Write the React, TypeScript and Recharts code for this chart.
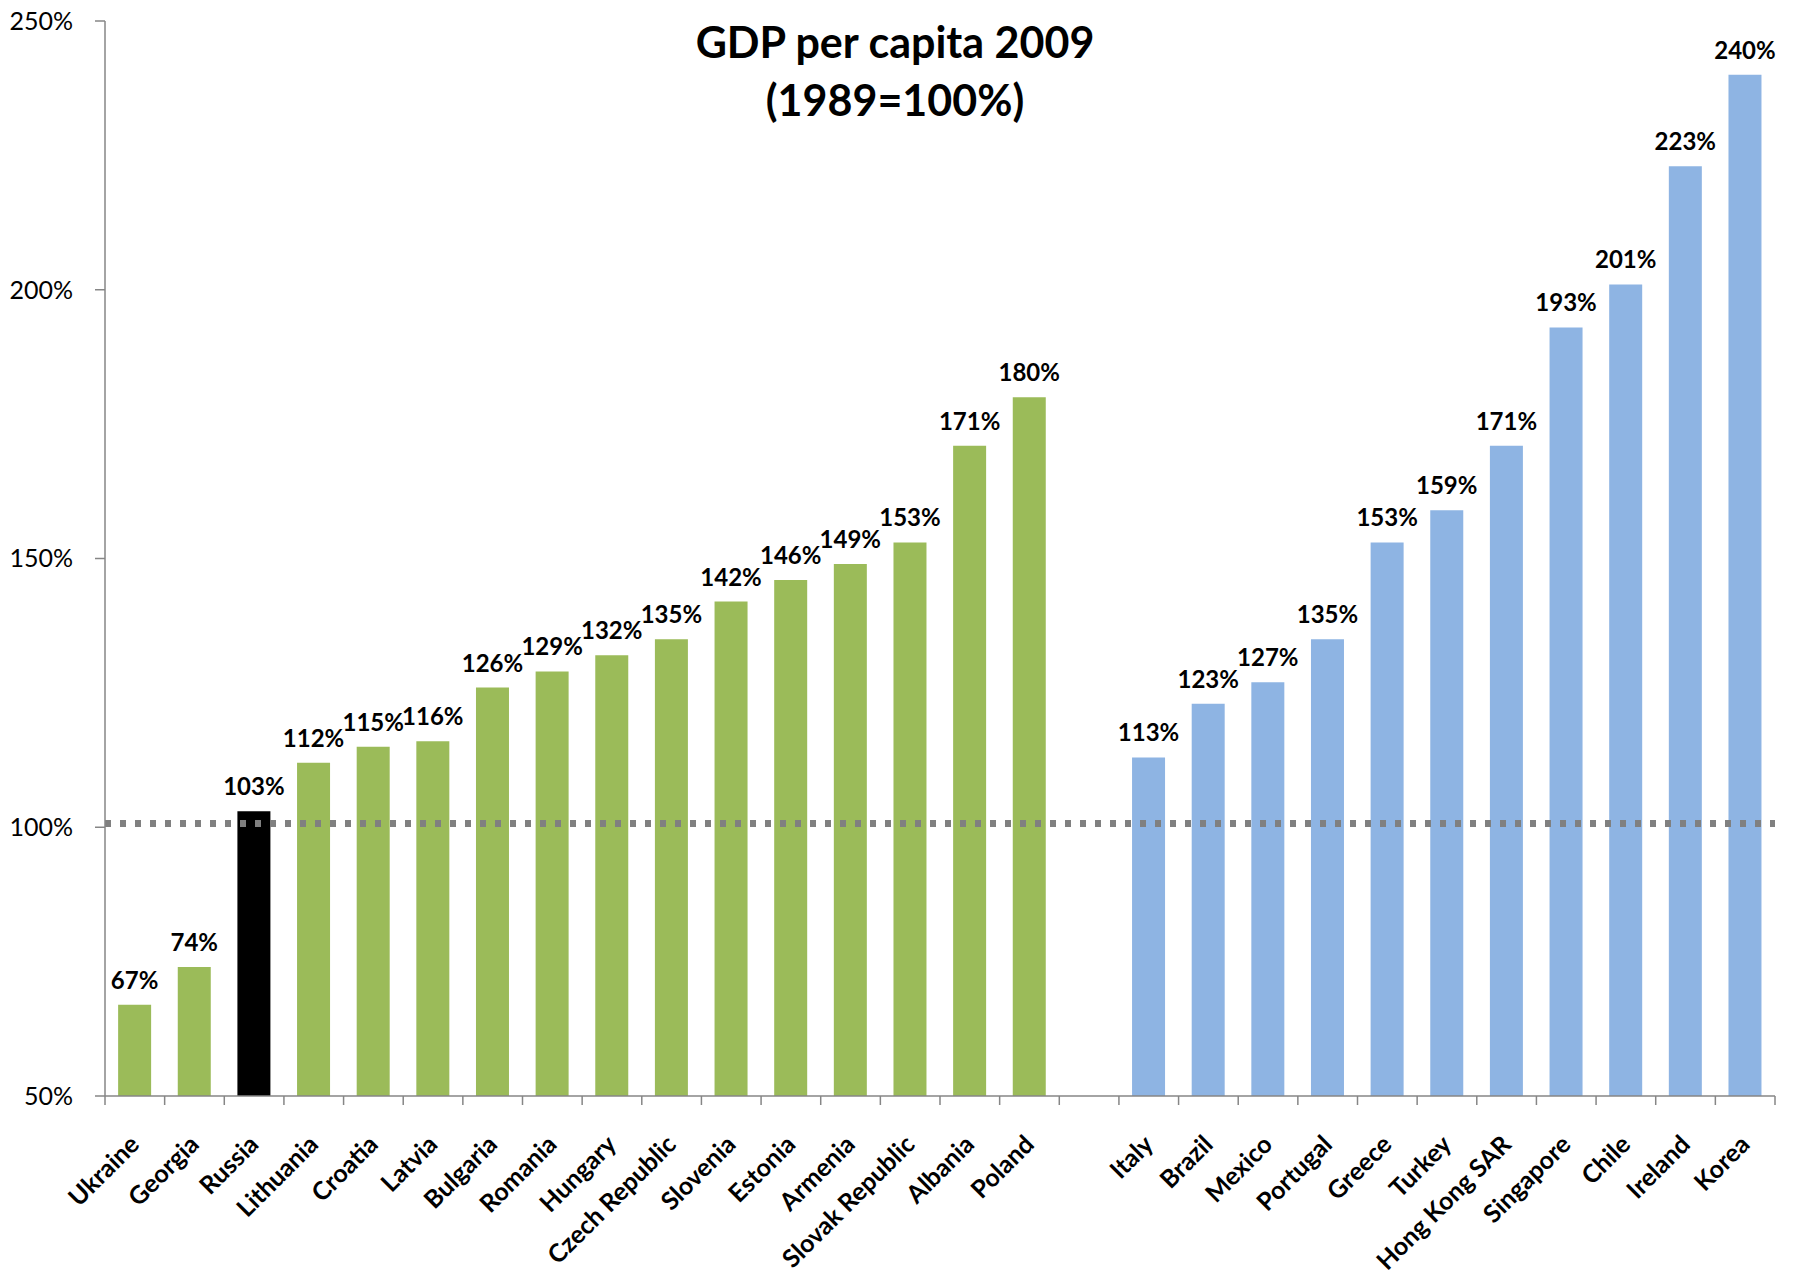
import React from 'react';
import { BarChart, Bar, XAxis, YAxis, Cell, LabelList, ReferenceLine } from 'recharts';

const countries = [
  'Ukraine', 'Georgia', 'Russia', 'Lithuania', 'Croatia', 'Latvia', 'Bulgaria', 'Romania',
  'Hungary', 'Czech Republic', 'Slovenia', 'Estonia', 'Armenia', 'Slovak Republic', 'Albania', 'Poland',
  '',
  'Italy', 'Brazil', 'Mexico', 'Portugal', 'Greece', 'Turkey', 'Hong Kong SAR', 'Singapore', 'Chile', 'Ireland', 'Korea',
];
const values: (number | null)[] = [
  67, 74, 103, 112, 115, 116, 126, 129, 132, 135, 142, 146, 149, 153, 171, 180,
  null,
  113, 123, 127, 135, 153, 159, 171, 193, 201, 223, 240,
];
const groups = [
  'transition', 'transition', 'russia', 'transition', 'transition', 'transition', 'transition', 'transition',
  'transition', 'transition', 'transition', 'transition', 'transition', 'transition', 'transition', 'transition',
  'none',
  'other', 'other', 'other', 'other', 'other', 'other', 'other', 'other', 'other', 'other', 'other',
];
const yTicks = [50, 100, 150, 200, 250];
const groupColors: Record<string, string> = {
  transition: '#9BBB59',
  russia: '#000000',
  other: '#8EB4E3',
  none: 'transparent',
};

const data = countries.map((name, i) => ({ name, v: values[i], g: groups[i] }));

const FONT = 'Lato, "Open Sans", sans-serif';
const AXIS = '#868686';

const XTick = (props: any) => {
  const { x, y, payload, index, visibleTicksCount, width } = props;
  const cw = width && visibleTicksCount ? width / visibleTicksCount : (payload.offset || 0) * 2;
  const left = x - cw / 2;
  const right = x + cw / 2;
  const isLast = index === visibleTicksCount - 1;
  const ax = x + 6;
  const ay = y + 50;
  return (
    <g>
      <line x1={left} y1={y} x2={left} y2={y + 9} stroke={AXIS} strokeWidth={1.5} />
      {isLast && <line x1={right} y1={y} x2={right} y2={y + 9} stroke={AXIS} strokeWidth={1.5} />}
      {payload.value ? (
        <text
          x={ax}
          y={ay}
          textAnchor="end"
          transform={`rotate(-45, ${ax}, ${ay})`}
          fontFamily={FONT}
          fontWeight={700}
          fontSize={25}
          fill="#000"
        >
          {payload.value}
        </text>
      ) : null}
    </g>
  );
};

export default function App() {
  return (
    <div style={{ position: 'absolute', left: 0, top: 0, width: 1797, height: 1275, background: '#fff' }}>
      <BarChart
        width={1797}
        height={1275}
        data={data}
        margin={{ top: 21, right: 22, bottom: 0, left: 0 }}
        barCategoryGap="22%"
      >
        <XAxis
          dataKey="name"
          interval={0}
          height={179}
          tickSize={0}
          tickMargin={0}
          tickLine={false}
          axisLine={{ stroke: AXIS, strokeWidth: 1.5 }}
          tick={<XTick />}
        />
        <YAxis
          domain={[50, 250]}
          ticks={yTicks}
          width={105}
          tickSize={10}
          tickMargin={22}
          axisLine={{ stroke: AXIS, strokeWidth: 1.5 }}
          tickLine={{ stroke: AXIS, strokeWidth: 1.5 }}
          tickFormatter={(v: number) => `${v}%`}
          tick={{ fill: '#000', fontFamily: FONT, fontSize: 25 }}
        />
        <Bar dataKey="v" isAnimationActive={false}>
          {data.map((d, i) => (
            <Cell key={i} fill={groupColors[d.g]} />
          ))}
          <LabelList
            dataKey="v"
            position="top"
            offset={16}
            formatter={(v: any) => (v == null ? '' : `${v}%`)}
            style={{ fontFamily: FONT, fontWeight: 700, fontSize: 24, fill: '#000' }}
          />
        </Bar>
        <ReferenceLine y={100.7} stroke="#808080" strokeWidth={7} strokeDasharray="6 9" />
      </BarChart>
      <div
        style={{
          position: 'absolute',
          left: 0,
          top: 13,
          width: 1790,
          textAlign: 'center',
          fontFamily: FONT,
          fontWeight: 700,
          fontSize: 43,
          lineHeight: '58px',
          color: '#000',
        }}
      >
        GDP per capita 2009
        <br />
        (1989=100%)
      </div>
    </div>
  );
}
